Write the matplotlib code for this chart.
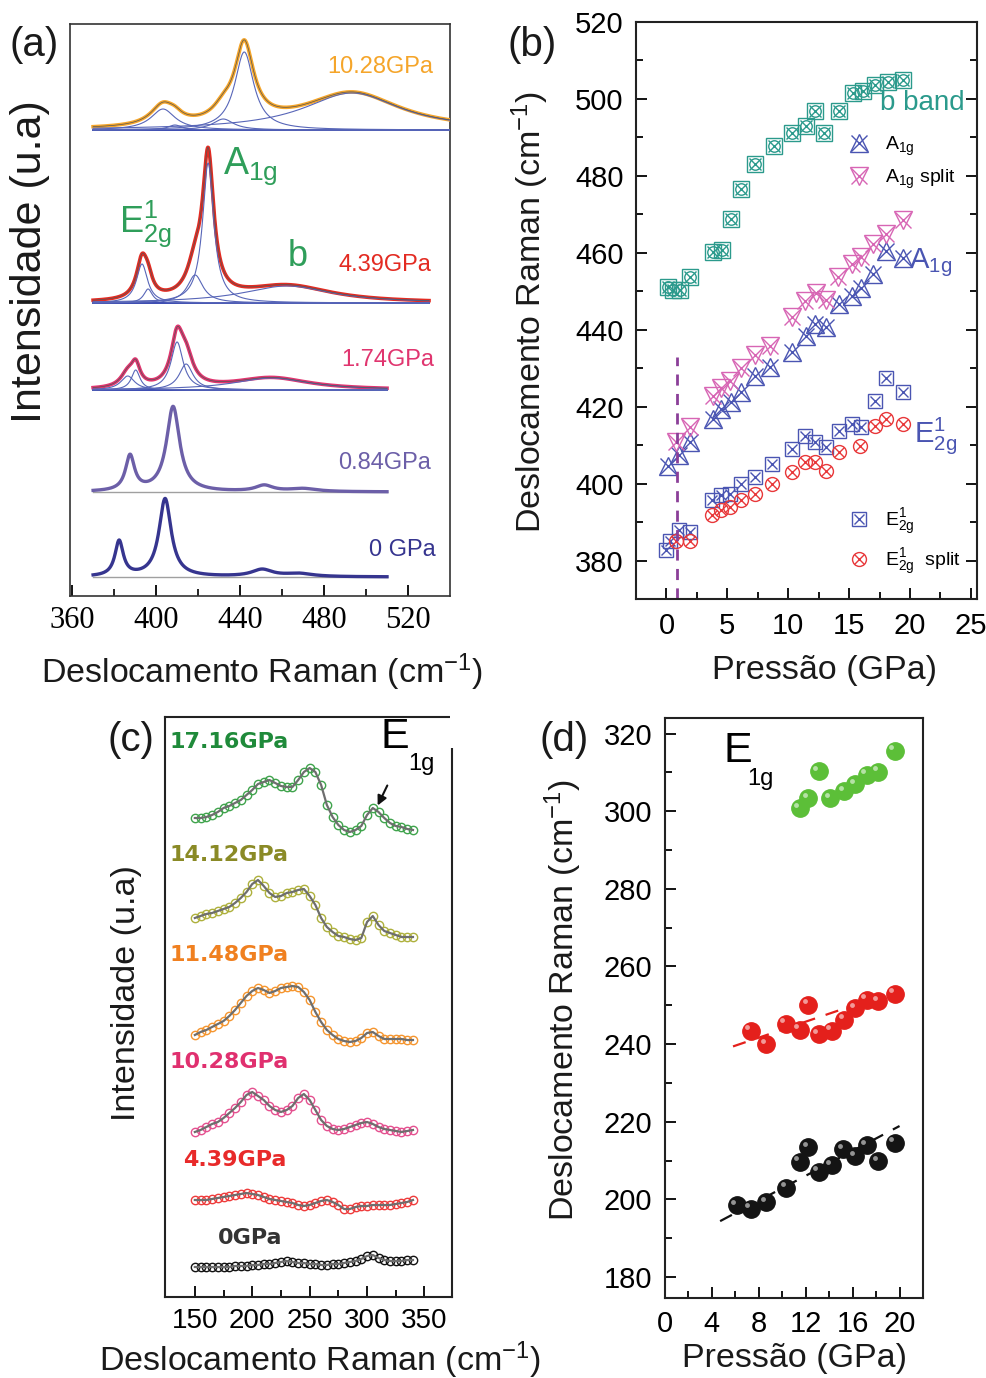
"""Raman under pressure - four panel figure (a)-(d)."""

import matplotlib
matplotlib.use("Agg")
import matplotlib.pyplot as plt
import numpy as np
from matplotlib.legend_handler import HandlerTuple
from matplotlib.patches import Rectangle
import matplotlib.transforms as mtransforms

plt.rcParams["font.family"] = ["Liberation Sans", "DejaVu Sans"]
plt.rcParams["mathtext.fontset"] = "custom"
plt.rcParams["mathtext.rm"] = "Liberation Sans"
plt.rcParams["mathtext.it"] = "Liberation Sans:italic"
plt.rcParams["mathtext.default"] = "regular"

W, H = 987, 1378

# ---------------- (a) spectra: Lorentzian components ----------------
A_LABELS = ["0 GPa", "0.84GPa", "1.74GPa", "4.39GPa", "10.28GPa"]
A_COLORS = ["#36358f", "#6c5fa8", "#e0356f", "#e32b22", "#f5a52a"]
A_OFFSET = [19, 104, 206, 293, 466]
A_XMIN = [370, 370, 370, 370, 370]
A_XMAX = [510, 510, 510, 530, 540]
A_SHOW_FIT = [False, False, True, True, True]
A_CEN = [[382.4, 404.3, 450.5, 468.0],
         [387.6, 408.1, 451.5, 470.0],
         [386.5, 390.3, 410.0, 414.3, 455.0],
         [393.3, 396.2, 418.6, 424.8, 462.4],
         [403.3, 409.0, 432.0, 442.0, 493.3]]
A_AMP = [[35, 78, 7, 3],
         [35, 85, 6, 3],
         [14, 20, 48, 26, 12],
         [39, 14, 28, 140, 17],
         [21, 5, 11, 78, 37]]
A_HW = [[2.4, 3.5, 6, 8],
        [2.6, 3.8, 5, 8],
        [4, 2.5, 3.5, 4, 22],
        [3.2, 2.5, 4.5, 3.2, 26],
        [7, 4, 6, 5.5, 28]]

# ---------------- (b) peak positions vs pressure ----------------
BB_P = [0.1, 0.5, 1.1, 1.9, 3.8, 4.6, 5.3, 6.1, 7.3, 8.8, 10.3, 11.5, 12.2, 12.9,
        14.2, 15.3, 16.1, 17.1, 18.2, 19.4]
BB_W = [451.2, 450.3, 450.3, 453.8, 460.2, 460.6, 468.8, 476.6, 483.0, 487.7, 491.2,
        492.9, 496.8, 491.2, 496.8, 501.5, 502.1, 503.6, 504.5, 505.0]
A1G_P = [0.1, 1.0, 1.9, 3.8, 4.5, 5.3, 6.1, 7.3, 8.5, 10.3, 11.5, 12.2, 13.1, 14.2,
         15.2, 16.0, 17.0, 18.0, 19.4]
A1G_W = [404.6, 407.5, 410.8, 416.8, 419.4, 421.2, 423.7, 428.0, 430.2, 434.1, 438.4,
         441.4, 440.6, 446.7, 448.8, 450.9, 454.4, 460.4, 458.6]
A1GS_P = [0.8, 1.9, 3.8, 4.5, 5.2, 6.1, 7.3, 8.5, 10.3, 11.4, 12.3, 13.1, 14.1, 15.2,
          16.0, 17.0, 18.0, 19.4]
A1GS_W = [410.8, 414.6, 422.8, 424.9, 426.6, 430.1, 433.5, 435.7, 443.2, 447.4, 449.5,
          447.7, 453.8, 457.2, 458.9, 462.4, 465.0, 468.4]
E2G_P = [0.0, 0.3, 1.0, 1.9, 3.7, 4.5, 5.2, 6.1, 7.3, 8.7, 10.3, 11.4, 12.2, 13.1,
         14.2, 15.2, 16.0, 17.1, 18.0, 19.4]
E2G_W = [382.8, 385.0, 388.0, 387.5, 395.7, 397.0, 397.4, 400.0, 401.7, 405.2, 409.0,
         412.5, 410.8, 409.5, 413.8, 415.5, 414.6, 421.5, 427.5, 423.7]
E2GS_P = [0.8, 1.9, 3.7, 4.5, 5.2, 6.1, 7.3, 8.7, 10.3, 11.4, 12.2, 13.1, 14.2, 15.9,
          17.1, 18.0, 19.4]
E2GS_W = [385.0, 385.0, 391.8, 393.1, 394.0, 395.7, 397.4, 400.0, 403.0, 405.6, 405.6,
          403.4, 408.2, 409.9, 415.0, 416.8, 415.5]
B_TRANSITION = 0.87

# ---------------- (c) low-frequency spectra (smoothed trace, offset) ----------------
C_SHIFT = [150, 155, 160, 165, 170, 175, 180, 185, 190, 195, 200, 205, 210, 215, 220,
           225, 230, 235, 240, 245, 250, 255, 260, 265, 270, 275, 280, 285, 290, 295,
           300, 305, 310, 315, 320, 325, 330, 335, 340]
C_LABELS = ["0GPa", "4.39GPa", "10.28GPa", "11.48GPa", "14.12GPa", "17.16GPa"]
C_MARK = ["#111111", "#ee3b3b", "#e4508f", "#f5952e", "#aeb03c", "#3fa34c"]
C_TEXT = ["#333333", "#e82a2a", "#e0306f", "#f08020", "#8a8a26", "#1f8a3a"]
C_0 = [30, 30, 30, 30, 30, 30, 30, 31, 31, 31, 32, 32, 33, 33, 34, 35, 36, 35, 34, 34,
       33, 33, 32, 32, 33, 33, 34, 35, 36, 38, 41, 42, 39, 37, 36, 36, 36, 37, 37]
C_439 = [97, 97, 97, 98, 99, 100, 101, 102, 103, 104, 103, 102, 100, 98, 97, 96, 95,
         94, 92, 91, 92, 94, 96, 97, 95, 92, 88, 88, 90, 91, 91, 92, 92, 92, 92, 93,
         94, 95, 97]
C_1028 = [165, 167, 170, 173, 175, 179, 184, 189, 195, 202, 205, 201, 197, 191, 187,
          185, 187, 191, 199, 203, 197, 187, 177, 171, 168, 167, 168, 170, 172, 174,
          175, 173, 170, 168, 167, 166, 165, 166, 167]
C_1148 = [262, 265, 267, 270, 273, 276, 281, 287, 294, 301, 306, 309, 307, 304, 306,
          309, 310, 311, 310, 305, 297, 285, 275, 267, 262, 258, 256, 255, 256, 259,
          264, 265, 261, 258, 258, 258, 258, 257, 257]
C_1412 = [379, 381, 383, 384, 386, 388, 390, 394, 399, 405, 413, 417, 411, 404, 400,
          401, 404, 405, 407, 408, 401, 392, 379, 370, 365, 361, 360, 358, 357, 359,
          375, 381, 372, 366, 364, 362, 360, 360, 360]
C_1716 = [479, 479, 480, 482, 485, 489, 491, 494, 497, 502, 507, 513, 515, 517, 514,
          511, 510, 510, 517, 525, 529, 525, 512, 492, 480, 472, 467, 465, 467, 471,
          482, 489, 485, 479, 474, 471, 470, 468, 467]

# ---------------- (d) E1g modes vs pressure ----------------
D_BLACK_P = [6.1, 7.3, 8.65, 10.36, 11.5, 12.2, 13.1, 14.2, 15.2, 16.2, 17.2, 18.2, 19.6]
D_BLACK_W = [198.5, 197.6, 199.2, 203.0, 209.7, 213.4, 207.1, 208.8, 212.9, 211.1,
             214.0, 209.8, 214.6]
D_RED_P = [7.3, 8.65, 10.3, 11.5, 12.2, 13.1, 14.2, 15.3, 16.2, 17.2, 18.2, 19.6]
D_RED_W = [243.4, 240.0, 245.2, 243.7, 250.1, 242.6, 243.4, 246.3, 249.3, 251.4,
           251.0, 253.0]
D_GREEN_P = [11.5, 12.2, 13.1, 14.1, 15.3, 16.2, 17.2, 18.2, 19.6]
D_GREEN_W = [300.7, 303.3, 310.3, 303.4, 305.1, 306.9, 309.4, 310.1, 315.6]
D_FIT_BLACK_P = [4.7, 20.0]
D_FIT_BLACK_W = [194.4, 218.9]
D_FIT_RED_P = [5.8, 19.5]
D_FIT_RED_W = [239.4, 253.5]


def fbox(left, top, right, bottom):
    """pixel box -> figure fraction rect"""
    return [left / W, 1 - bottom / H, (right - left) / W, (bottom - top) / H]


def ftext(x, y, s, **kw):
    fig.text(x / W, 1 - y / H, s, **kw)


def style_spines(ax, lw=1.4, color="#222222"):
    for sp in ax.spines.values():
        sp.set_linewidth(lw)
        sp.set_color(color)


fig = plt.figure(figsize=(W / 100, H / 100), dpi=100)

# ======================= (a) =======================
ax = fig.add_axes(fbox(70, 24, 450, 596))
for i in range(len(A_LABELS)):
    x = np.linspace(A_XMIN[i], A_XMAX[i], 800)
    comps = [a / (1 + ((x - c) / w) ** 2) for c, a, w in zip(A_CEN[i], A_AMP[i], A_HW[i])]
    total = np.sum(comps, axis=0)
    off = A_OFFSET[i]
    if A_SHOW_FIT[i]:
        ax.plot([A_XMIN[i], A_XMAX[i]], [off, off], color="#3a4ab0", lw=1.4, zorder=2)
        ax.plot(x, off + total, color=A_COLORS[i], lw=2.6, zorder=3)
        for comp in comps:
            ax.plot(x, off + comp, color="#5866b8", lw=0.8, zorder=4)
        ax.plot(x, off + total, color="#555555", lw=0.5, zorder=5)
    else:
        ax.plot([A_XMIN[i], A_XMAX[i]], [off, off], color="#a0a0a0", lw=1.0, zorder=2)
        ax.plot(x, off + total, color=A_COLORS[i], lw=2.4, zorder=3)

a_txt_pos = [(517.3, 46), (508.9, 133), (510.4, 236), (508.9, 331), (506.8, 529)]
for (tx, ty), lab, col in zip(a_txt_pos, A_LABELS, A_COLORS):
    ax.text(tx, ty, lab, color=col, fontsize=17, ha="center", va="center")
green = "#2f9e5a"
ax.text(444.8, 430, r"A$_{1g}$", color=green, fontsize=27, ha="center", va="center")
ax.text(394.8, 372, r"E$^1_{2g}$", color=green, fontsize=26, ha="center", va="center")
ax.text(467.7, 340, "b", color=green, fontsize=26, ha="center", va="center")

ax.set_xlim(359, 540)
ax.set_ylim(0, 572)
ax.set_yticks([])
ax.set_xticks([360, 400, 440, 480, 520])
ax.set_xticks([380, 420, 460, 500], minor=True)
ax.set_xticklabels(["360", "400", "440", "480", "520"], fontfamily="Liberation Serif",
                   fontsize=22)
ax.tick_params(axis="x", which="major", direction="in", length=8, width=1.3, pad=7)
ax.tick_params(axis="x", which="minor", direction="in", length=5, width=1.2)
style_spines(ax, 1.2, "#333333")

# ======================= (b) =======================
ax = fig.add_axes(fbox(636, 22, 977, 599))


def combo(ax, px, py, shapes, color, ms):
    hs = []
    for shp, scale in shapes:
        h, = ax.plot(px, py, ls="none", marker=shp, ms=ms * scale, mfc="none",
                     mec=color, mew=1.0)
        hs.append(h)
    return tuple(hs)


teal, blue, pink, red = "#2b9a8c", "#4a55b2", "#d765b4", "#e8383a"
combo(ax, BB_P, BB_W, [("s", 1.0), ("o", 0.75), ("x", 0.8)], teal, 11)
h_a1g = combo(ax, A1G_P, A1G_W, [("^", 1.0), ("x", 0.9)], blue, 13)
h_a1gs = combo(ax, A1GS_P, A1GS_W, [("v", 1.0), ("x", 0.9)], pink, 13)
h_e2g = combo(ax, E2G_P, E2G_W, [("s", 1.0), ("x", 0.7)], blue, 10)
h_e2gs = combo(ax, E2GS_P, E2GS_W, [("o", 1.0), ("x", 0.7)], red, 10)
ax.plot([B_TRANSITION, B_TRANSITION], [370, 433], ls=(0, (4, 3)), color="#8b3f98", lw=2)

leg1 = ax.legend([h_a1g, h_a1gs], [r"A$_{1g}$", r"A$_{1g}$ split"],
                 handler_map={tuple: HandlerTuple(ndivide=1)}, loc="upper left",
                 bbox_to_anchor=(0.56, 0.835), frameon=False, fontsize=14,
                 handlelength=1.5, labelspacing=0.5, handletextpad=0.6)
ax.add_artist(leg1)
ax.legend([h_e2g, h_e2gs], [r"E$^1_{2g}$", r"E$^1_{2g}$  split"],
          handler_map={tuple: HandlerTuple(ndivide=1)}, loc="upper left",
          bbox_to_anchor=(0.56, 0.19), frameon=False, fontsize=14,
          handlelength=1.5, labelspacing=0.5, handletextpad=0.6)
ax.text(21.0, 498.9, "b band", color=teal, fontsize=20, ha="center", va="center")
ax.text(21.7, 457.3, r"A$_{1g}$", color=blue, fontsize=21, ha="center", va="center")
ax.text(22.1, 412.5, r"E$^1_{2g}$", color=blue, fontsize=21, ha="center", va="center")

ax.set_xlim(-2.5, 25.5)
ax.set_ylim(370, 520)
ax.set_xticks([0, 5, 10, 15, 20, 25])
ax.set_xticks([2.5, 7.5, 12.5, 17.5, 22.5], minor=True)
ax.set_yticks([380, 400, 420, 440, 460, 480, 500, 520])
ax.set_yticks([390, 410, 430, 450, 470, 490, 510], minor=True)
ax.tick_params(which="both", direction="in", left=True, right=True, top=False,
               labelsize=21, width=1.3)
ax.tick_params(which="major", length=8, pad=9)
ax.tick_params(which="minor", length=5)
style_spines(ax, 1.5)

# ======================= (c) =======================
ax = fig.add_axes(fbox(165, 717, 452, 1297))
c_series = [C_0, C_439, C_1028, C_1148, C_1412, C_1716]
for ys, mc in zip(c_series, C_MARK):
    ax.plot(C_SHIFT, ys, ls="none", marker="o", ms=6, mfc="none", mec=mc, mew=1.0,
            zorder=2)
    ax.plot(C_SHIFT, ys, color="#6e6e6e", lw=1.6, zorder=3)
c_txt_pos = [(170, 59), (139.5, 137), (128.1, 235), (128.1, 342), (128.1, 442),
             (128.1, 555)]
for (tx, ty), lab, col in zip(c_txt_pos, C_LABELS, C_TEXT):
    ax.text(tx, ty, lab, color=col, fontsize=16, fontweight="bold", ha="left",
            va="center", fontfamily="DejaVu Sans")
ax.text(311.7, 560, "E", fontsize=31, ha="left", va="center", zorder=6)
ax.text(335.5, 533, "1g", fontsize=17, ha="left", va="center", zorder=6)
ax.annotate("", xy=(308.2, 489), xytext=(318.7, 514),
            arrowprops=dict(arrowstyle="-|>", color="#111111", lw=1.5,
                            mutation_scale=14))
ax.set_xlim(124, 374)
ax.set_ylim(0, 580)
ax.set_yticks([])
ax.set_xticks([150, 200, 250, 300, 350])
ax.set_xticks([175, 225, 275, 325], minor=True)
ax.tick_params(which="both", direction="in", labelsize=20, width=1.3)
ax.tick_params(which="major", length=8, pad=8)
ax.tick_params(which="minor", length=5)
style_spines(ax, 1.5)
fig.patches.append(Rectangle((450.5 / W, 1 - 748 / H), 10 / W, 36 / H,
                             transform=fig.transFigure, facecolor="white",
                             edgecolor="none", zorder=10))

# ======================= (d) =======================
ax = fig.add_axes(fbox(665, 718, 923, 1298))
ax.plot(D_FIT_BLACK_P, D_FIT_BLACK_W, color="#111111", lw=1.6, ls=(0, (6, 5)))
ax.plot(D_FIT_RED_P, D_FIT_RED_W, color="#e4201c", lw=1.6, ls=(0, (6, 5)))
hl = mtransforms.offset_copy(ax.transData, fig=fig, x=-2.5, y=2.5, units="points")
for px, py, col in [(D_BLACK_P, D_BLACK_W, "#141414"), (D_RED_P, D_RED_W, "#e4201c"),
                    (D_GREEN_P, D_GREEN_W, "#5cbf38")]:
    ax.plot(px, py, ls="none", marker="o", ms=12.5, color=col, mec=col, zorder=3)
    ax.plot(px, py, ls="none", marker="o", ms=3.5, color="white", alpha=0.55,
            mec="none", transform=hl, zorder=4)
ax.text(5.0, 315.4, "E", fontsize=31, ha="left", va="center")
ax.text(7.0, 308.2, "1g", fontsize=17, ha="left", va="center")
ax.set_xlim(0, 22)
ax.set_ylim(174.6, 324)
ax.set_xticks([0, 4, 8, 12, 16, 20])
ax.set_xticks([2, 6, 10, 14, 18], minor=True)
ax.set_yticks([180, 200, 220, 240, 260, 280, 300, 320])
ax.set_yticks([190, 210, 230, 250, 270, 290, 310], minor=True)
ax.tick_params(which="both", direction="in", labelsize=21, width=1.3)
ax.tick_params(which="major", length=8, pad=9)
ax.tick_params(which="minor", length=5)
style_spines(ax, 1.5)

# ---------------- axis labels and panel letters ----------------
lab_kw = dict(fontsize=24.5, ha="center", va="center", color="#1a1a1a")
ftext(262, 672, r"Deslocamento Raman (cm$^{-1}$)", **lab_kw)
ftext(30, 262, "Intensidade (u.a)", rotation=90, fontsize=31, ha="center", va="center",
      color="#1a1a1a")
ftext(825, 670, "Pressão (GPa)", **lab_kw)
ftext(530, 312, r"Deslocamento Raman (cm$^{-1}$)", rotation=90, **lab_kw)
ftext(320, 1360, r"Deslocamento Raman (cm$^{-1}$)", **lab_kw)
ftext(127, 993, "Intensidade (u.a)", rotation=90, **lab_kw)
ftext(795, 1358, "Pressão (GPa)", **lab_kw)
ftext(563, 1000, r"Deslocamento Raman (cm$^{-1}$)", rotation=90, **lab_kw)
for s, (x, y) in zip(["(a)", "(b)", "(c)", "(d)"],
                     [(34, 45), (532, 45), (131, 740), (564, 740)]):
    ftext(x, y, s, fontsize=29, ha="center", va="center", color="#1a1a1a")

fig.savefig("out.png", dpi=100)
